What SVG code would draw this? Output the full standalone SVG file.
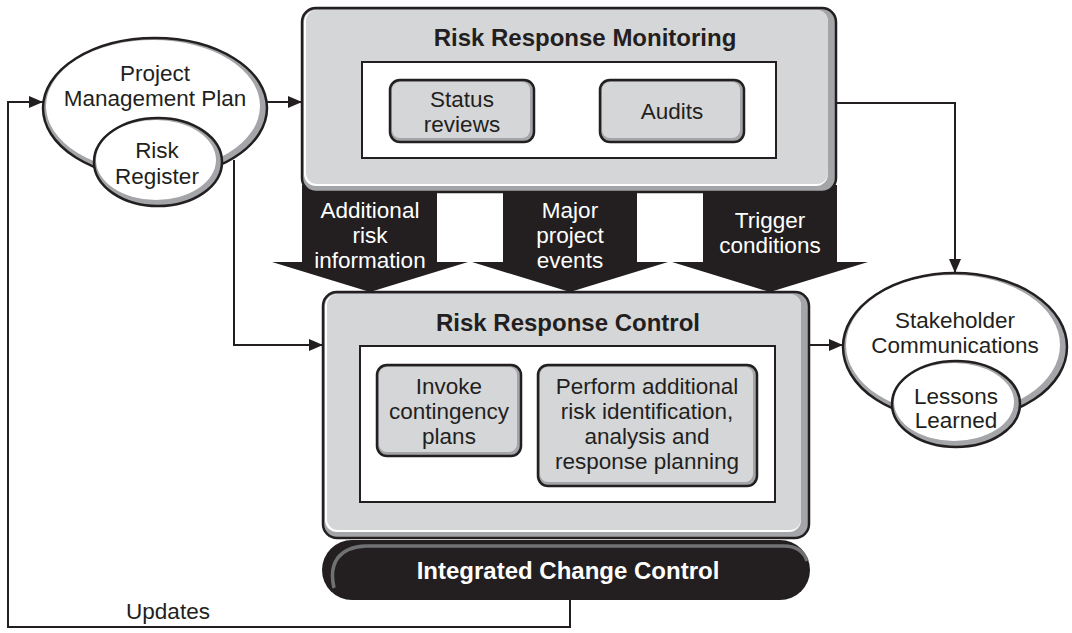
<svg xmlns="http://www.w3.org/2000/svg" width="1072" height="633" viewBox="0 0 1072 633">
<defs>
<style>
.t{font-family:"Liberation Sans",Arial,sans-serif;font-size:22.5px;fill:#231f20;text-anchor:middle}
.b{font-family:"Liberation Sans",Arial,sans-serif;font-size:24px;font-weight:bold;fill:#231f20;text-anchor:middle}
.w{fill:#ffffff}
.ln{fill:none;stroke:#231f20;stroke-width:2}
.ol{stroke:#231f20;stroke-width:2.5}
.sh{fill:#a4a5a8}
.gr{fill:#d5d6d8}
.hi{fill:#ffffff}
.blk{fill:#231f20}
</style>
<marker id="ah" viewBox="0 0 14 12" refX="14" refY="6" markerWidth="14" markerHeight="12" markerUnits="userSpaceOnUse" orient="auto">
<path d="M0,0 L14,6 L0,12 Z" fill="#231f20"/>
</marker>
</defs>
<rect width="1072" height="633" fill="#ffffff"/>

<g id="connectors">
<polyline class="ln" points="570,600 570,627 8,627 8,102 43,102" marker-end="url(#ah)"/>
<line class="ln" x1="267" y1="102" x2="302" y2="102" marker-end="url(#ah)"/>
<polyline class="ln" points="234,160 234,345 323,345" marker-end="url(#ah)"/>
<polyline class="ln" points="836,103 955,103 955,273" marker-end="url(#ah)"/>
<line class="ln" x1="809" y1="345" x2="843" y2="345" marker-end="url(#ah)"/>
<text class="t" x="168" y="619">Updates</text>
</g>

<g id="flow-arrows">
<polygon class="blk" points="302,185 437,185 437,262 468,262 370,292 272,262 302,262"/>
<polygon class="blk" points="503,185 637,185 637,262 668,262 570,292 472,262 503,262"/>
<polygon class="blk" points="703,185 837,185 837,262 868,262 770,292 672,262 703,262"/>
<text class="t w" x="370" y="218">Additional</text>
<text class="t w" x="370" y="243">risk</text>
<text class="t w" x="370" y="268">information</text>
<text class="t w" x="570" y="218">Major</text>
<text class="t w" x="570" y="243">project</text>
<text class="t w" x="570" y="268">events</text>
<text class="t w" x="770" y="228">Trigger</text>
<text class="t w" x="770" y="253">conditions</text>
</g>

<g id="monitoring">
<rect class="sh ol" x="302" y="8" width="534" height="184" rx="14"/>
<rect class="hi" x="304" y="10" width="524" height="176" rx="12"/>
<rect class="gr" x="306" y="10" width="522" height="174" rx="11"/>
<text class="b" x="585" y="46">Risk Response Monitoring</text>
<rect x="362" y="62" width="414" height="96" fill="#ffffff" stroke="#231f20" stroke-width="2"/>
<g id="status-reviews">
<rect class="sh ol" x="390" y="80" width="144" height="62" rx="10"/>
<rect class="gr" x="392" y="82" width="138" height="56" rx="8"/>
<text class="t" x="462" y="107">Status</text>
<text class="t" x="462" y="132">reviews</text>
</g>
<g id="audits">
<rect class="sh ol" x="600" y="80" width="144" height="62" rx="10"/>
<rect class="gr" x="602" y="82" width="138" height="56" rx="8"/>
<text class="t" x="672" y="119">Audits</text>
</g>
</g>

<g id="control">
<rect class="sh ol" x="323" y="292" width="486" height="246" rx="14"/>
<rect class="hi" x="325" y="294" width="476" height="238" rx="12"/>
<rect class="gr" x="327" y="294" width="474" height="236" rx="11"/>
<text class="b" x="568" y="331">Risk Response Control</text>
<rect x="360" y="346" width="415" height="156" fill="#ffffff" stroke="#231f20" stroke-width="2"/>
<g id="invoke">
<rect class="sh ol" x="377" y="365" width="144" height="91" rx="10"/>
<rect class="gr" x="379" y="367" width="138" height="85" rx="8"/>
<text class="t" x="449" y="394">Invoke</text>
<text class="t" x="449" y="419">contingency</text>
<text class="t" x="449" y="444">plans</text>
</g>
<g id="perform">
<rect class="sh ol" x="538" y="365" width="219" height="121" rx="10"/>
<rect class="gr" x="540" y="367" width="213" height="115" rx="8"/>
<text class="t" x="647" y="394">Perform additional</text>
<text class="t" x="647" y="419">risk identification,</text>
<text class="t" x="647" y="444">analysis and</text>
<text class="t" x="647" y="469">response planning</text>
</g>
</g>

<g id="integrated-change-control">
<rect x="322" y="540" width="488" height="60" rx="30" fill="#231f20"/>
<path d="M334,588 C328,562 340,547 366,546 L784,546 C797,546 804,552 807,561" fill="none" stroke="#707173" stroke-width="3.5"/>
<text class="b w" x="568" y="579">Integrated Change Control</text>
</g>

<g id="project-management-plan">
<ellipse class="sh ol" cx="155" cy="108" rx="112" ry="70"/>
<ellipse class="hi" cx="153" cy="106" rx="107" ry="66"/>
<text class="t" x="155" y="81">Project</text>
<text class="t" x="155" y="106">Management Plan</text>
<g id="risk-register">
<ellipse class="sh ol" cx="158" cy="162" rx="64" ry="44"/>
<ellipse class="hi" cx="156" cy="160" rx="60" ry="40"/>
<text class="t" x="157" y="158">Risk</text>
<text class="t" x="157" y="184">Register</text>
</g>
</g>

<g id="stakeholder-communications">
<ellipse class="sh ol" cx="955" cy="347" rx="112" ry="74"/>
<ellipse class="hi" cx="953" cy="345" rx="107" ry="70"/>
<text class="t" x="955" y="328">Stakeholder</text>
<text class="t" x="955" y="353">Communications</text>
<g id="lessons-learned">
<ellipse class="sh ol" cx="956" cy="404" rx="64" ry="43"/>
<ellipse class="hi" cx="954" cy="402" rx="60" ry="39"/>
<text class="t" x="956" y="404">Lessons</text>
<text class="t" x="956" y="428">Learned</text>
</g>
</g>
</svg>
